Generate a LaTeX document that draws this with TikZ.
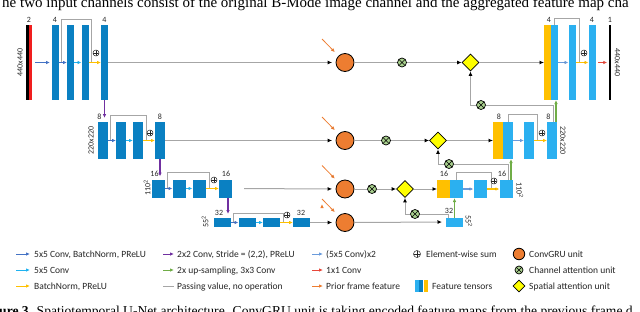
\documentclass[tikz,border=0pt]{standalone}
\usepackage{fontspec}
\setsansfont{Carlito}
\newfontfamily\capfont{Liberation Serif}
\usepackage{tikz}
\usetikzlibrary{arrows.meta,shapes.geometric}

\definecolor{encblue}{HTML}{0A80C2}
\definecolor{decblue}{HTML}{2BB0F0}
\definecolor{catyellow}{HTML}{FFC000}
\definecolor{convblue}{HTML}{4472C4}
\definecolor{lconvblue}{HTML}{1FB2F0}
\definecolor{bnyellow}{HTML}{FFC000}
\definecolor{downpurple}{HTML}{7030A0}
\definecolor{upgreen}{HTML}{70AD47}
\definecolor{dconvblue}{HTML}{6A9BDB}
\definecolor{onered}{HTML}{E8473A}
\definecolor{inred}{HTML}{F01E1E}
\definecolor{priororange}{HTML}{ED7D31}
\definecolor{passgray}{HTML}{A6A6A6}
\definecolor{gruorange}{HTML}{ED7D31}
\definecolor{cagreen}{HTML}{A9D18E}
\definecolor{sayellow}{HTML}{FFFF00}
\definecolor{txtgray}{HTML}{262626}

\begin{document}
\begin{tikzpicture}[x=1pt, y=-1pt,
  bar/.style={rectangle, inner sep=0pt, outer sep=0pt},
  enc/.style={bar, fill=encblue},
  dec/.style={bar, fill=decblue},
  cat/.style={bar, fill=catyellow},
  lone/.style={minimum width=7pt, minimum height=75pt},
  ltwo/.style={minimum width=10pt, minimum height=37pt},
  lthree/.style={minimum width=13pt, minimum height=18pt},
  lfour/.style={minimum width=17pt, minimum height=9pt},
  lbl/.style={inner sep=0pt, text=txtgray, font=\sffamily\fontsize{8}{8}\selectfont},
  key/.style={anchor=base west, inner sep=0pt, text=txtgray, font=\sffamily\fontsize{9.5}{9.5}\selectfont},
  plus/.style={circle, draw=txtgray, line width=0.5pt, minimum size=6pt, inner sep=0pt,
    path picture={\draw[txtgray, line width=0.5pt] (path picture bounding box.north) -- (path picture bounding box.south)
      (path picture bounding box.west) -- (path picture bounding box.east);}},
  gru/.style={circle, draw, line width=0.8pt, fill=gruorange, minimum size=18pt, inner sep=0pt},
  catt/.style={circle, draw, line width=0.7pt, fill=cagreen, minimum size=9pt, inner sep=0pt,
    path picture={\draw[line width=0.6pt] (path picture bounding box.north west) -- (path picture bounding box.south east)
      (path picture bounding box.north east) -- (path picture bounding box.south west);}},
  satt/.style={diamond, draw, line width=0.8pt, fill=sayellow, minimum width=17pt, minimum height=17pt, inner sep=0pt},
  pass/.style={draw=passgray, line width=1pt},
  into/.style={pass, -{Latex[length=4.5pt, width=4pt, color=black]}},
  col/.style={line width=1.1pt, -{Latex[length=4pt, width=3.5pt]}},
  convarr/.style={col, draw=convblue},
  lconvarr/.style={col, draw=lconvblue},
  bnarr/.style={col, draw=bnyellow},
  downarr/.style={col, draw=downpurple},
  uparr/.style={col, draw=upgreen},
  dconvarr/.style={col, draw=dconvblue},
  onearr/.style={col, draw=onered},
  priorarr/.style={col, line width=0.8pt, draw=priororange}]

  \useasboundingbox (0,0) rectangle (640,311);
  \clip (0,0) rectangle (640,311);

  % caption fragments
  \node[anchor=base west, inner sep=0pt, font=\capfont\fontsize{15}{15}\selectfont] (captop) at (2,7)
    {he two input channels consist of the original B-Mode image channel and the aggregated feature map cha};
  \node[anchor=base west, inner sep=0pt, font=\capfont\fontsize{13.6}{13.6}\selectfont] (capbot) at (-1,315)
    {{\bfseries ure 3.} Spatiotemporal U-Net architecture. ConvGRU unit is taking encoded feature maps from the previous frame d};

  % encoder
  \node[bar, fill=black, minimum width=3pt, minimum height=75pt] (inb) at (27.5,62.5) {};
  \node[bar, fill=inred, minimum width=3pt, minimum height=75pt] (inr) at (30.5,62.5) {};
  \node[enc, lone] (e11) at (55.5,62.5) {};
  \node[enc, lone] (e12) at (70.5,62.5) {};
  \node[enc, lone] (e13) at (85,62.5) {};
  \node[enc, lone] (e14) at (104.5,62.5) {};

  \node[enc, ltwo] (e21) at (102.5,140.5) {};
  \node[enc, ltwo] (e22) at (121,140.5) {};
  \node[enc, ltwo] (e23) at (138,140.5) {};
  \node[enc, ltwo] (e24) at (160,140.5) {};

  \node[enc, lthree] (e31) at (158.5,188.5) {};
  \node[enc, lthree] (e32) at (179,188.5) {};
  \node[enc, lthree] (e33) at (199,188.5) {};
  \node[enc, lthree] (e34) at (225.5,188.5) {};

  \node[enc, lfour] (e41) at (222,222.5) {};
  \node[enc, lfour] (e42) at (247,222.5) {};
  \node[enc, lfour] (e43) at (271.5,222.5) {};
  \node[enc, lfour] (e44) at (301.5,222.5) {};

  % decoder
  \node[cat, lone] (d1y) at (547.5,62.5) {};
  \node[dec, lone] (d1b) at (554.5,62.5) {};
  \node[dec, lone] (d12) at (572,62.5) {};
  \node[dec, lone] (d13) at (592,62.5) {};
  \node[bar, fill=black, minimum width=2.5pt, minimum height=75pt] (out) at (610,62.5) {};

  \node[cat, ltwo] (d2y) at (498,140.5) {};
  \node[dec, ltwo] (d2b) at (508,140.5) {};
  \node[dec, ltwo] (d22) at (529,140.5) {};
  \node[dec, ltwo] (d23) at (552,140.5) {};

  \node[cat, lthree] (d3y) at (443.5,189) {};
  \node[dec, lthree] (d3b) at (456.5,189) {};
  \node[dec, lthree] (d32) at (480,189) {};
  \node[dec, lthree] (d33) at (506,189) {};

  \node[dec, lfour] (d41) at (454.5,222) {};

  % channel numbers and sizes
  \node[lbl] (c0) at (29,20) {2};
  \node[lbl] (c11) at (55,20) {4};
  \node[lbl] (c14) at (104.5,20) {4};
  \node[lbl] (c21) at (99.5,116.5) {8};
  \node[lbl] (c24) at (160,116.5) {8};
  \node[lbl] (c31) at (154.5,173.5) {16};
  \node[lbl] (c34) at (226,173.5) {16};
  \node[lbl] (c41) at (219,213) {32};
  \node[lbl] (c44) at (301,213) {32};
  \node[lbl] (k1a) at (549,20) {4};
  \node[lbl] (k1c) at (592,20) {4};
  \node[lbl] (k1o) at (610,20) {1};
  \node[lbl] (k2a) at (499,116.5) {8};
  \node[lbl] (k2c) at (548.5,116.5) {8};
  \node[lbl] (k3a) at (444,174) {16};
  \node[lbl] (k3c) at (502,174) {16};
  \node[lbl] (k4a) at (449,211) {32};

  \node[lbl, rotate=90] (dim1) at (20,62.5) {440x440};
  \node[lbl, rotate=90] (dim2) at (91,140.5) {220x220};
  \node[lbl, rotate=90] (dim3) at (147,188) {110\textsuperscript{2}};
  \node[lbl, rotate=90] (dim4) at (205,222) {55\textsuperscript{2}};
  \node[lbl, rotate=-90] (dimr1) at (617.5,62.5) {440x440};
  \node[lbl, rotate=-90] (dimr2) at (563,140.5) {220x220};
  \node[lbl, rotate=-90] (dimr3) at (520,190) {110\textsuperscript{2}};
  \node[lbl, rotate=-90] (dimr4) at (469,221) {55\textsuperscript{2}};

  % attention units
  \node[gru] (g1) at (345,62.5) {};
  \node[gru] (g2) at (345,140.5) {};
  \node[gru] (g3) at (345,189) {};
  \node[gru] (g4) at (345,222.5) {};
  \node[catt] (ca1) at (402,62.5) {};
  \node[catt] (ca2) at (386,140.5) {};
  \node[catt] (ca3) at (372,189) {};
  \node[catt] (cb1) at (481,105) {};
  \node[catt] (cb2) at (449,164) {};
  \node[catt] (cb3) at (415,214) {};
  \node[satt] (sa1) at (470.5,62.5) {};
  \node[satt] (sa2) at (438,140.5) {};
  \node[satt] (sa3) at (405,189) {};

  \coordinate (pr1) at (322,39);
  \coordinate (pr2) at (322,117);
  \coordinate (pr3) at (322,165.5);
  \coordinate (pr4) at (322,199);
  \path[priorarr, shorten >=5pt] (pr1) edge (g1) (pr2) edge (g2) (pr3) edge (g3) (pr4) edge (g4);

  % skip connections
  \coordinate (s1a) at (61,62.5);
  \coordinate (s1b) at (91,62.5);
  \coordinate (s2a) at (110,140.5);
  \coordinate (s2b) at (146,140.5);
  \coordinate (s3a) at (167,188.5);
  \coordinate (s3b) at (209,188.5);
  \coordinate (s4a) at (233,222.5);
  \coordinate (s4b) at (283,222.5);
  \draw[pass] (s1a) -- ++(0,-43.5) -| (s1b);
  \draw[pass] (s2a) -- ++(0,-25.5) -| (s2b);
  \draw[pass] (s3a) -- ++(0,-16.5) -| (s3b);
  \draw[pass] (s4a) -- ++(0,-9.5) -| (s4b);
  \coordinate (t1b) at (579,62.5);
  \coordinate (t2b) at (537,140.5);
  \coordinate (t3b) at (491,189);
  \draw[pass] (d1b.north) -- ++(0,-7) -| (t1b);
  \draw[pass] (d2b.north) -- ++(0,-8) -| (t2b);
  \draw[pass] (d3b.north) -- ++(0,-7.5) -| (t3b);

  \node[plus] (p1) at (96,53) {};
  \node[plus] (p2) at (150,133) {};
  \node[plus] (p3) at (214,180) {};
  \node[plus] (p4) at (287,215) {};
  \node[plus] (q1) at (584,53) {};
  \node[plus] (q2) at (542,133) {};
  \node[plus] (q3) at (494,181) {};

  % encoder arrows
  \path[convarr, shorten <=3pt, shorten >=2pt] (inr) edge (e11);
  \path[convarr] (e11) edge (e12) (e21) edge (e22) (e31) edge (e32) (e41) edge (e42);
  \path[lconvarr] (e12) edge (e13) (e22) edge (e23) (e32) edge (e33) (e42) edge (e43);
  \path[bnarr] (e13) edge (e14) (e23) edge (e24) (e33) edge (e34) (e43) edge (e44);
  \draw[downarr, shorten >=4pt] (e14.south) -- (e14.south |- e21.north);
  \draw[downarr, shorten >=3pt] (e24.south) -- (e24.south |- e31.north);
  \draw[downarr, shorten >=4pt] ([xshift=2.5pt]e34.south) -- ([xshift=2.5pt]e34.south |- e41.north);

  % bottleneck paths
  \path[into, shorten >=3.5pt] (e14) edge (g1) (e24) edge (g2) (e44) edge (g4);
  \path[into, shorten <=12pt, shorten >=3.5pt] (e34) edge (g3);
  \draw[pass] (g1) -- (ca1);
  \draw[pass] (g2) -- (ca2);
  \draw[pass] (g3) -- (ca3);
  \path[into] (ca1) edge (sa1) (ca2) edge (sa2) (ca3) edge (sa3);
  \path[into] (sa1) edge (d1y) (sa2) edge (d2y) (sa3) edge (d3y);
  \path[into, shorten >=4pt] (g4) edge (d41);

  % decoder arrows
  \path[dconvarr] (d1b) edge (d12) (d2b) edge (d22) (d3b) edge (d32);
  \path[bnarr] (d12) edge (d13) (d22) edge (d23) (d32) edge (d33);
  \path[onearr, shorten <=2.5pt, shorten >=1.5pt] (d13) edge (out);
  \draw[uparr] ([xshift=4pt]d23.north) -- ([xshift=4pt]d23.north |- d1b.south);
  \draw[uparr] ([xshift=5pt]d33.north) -- ([xshift=5pt]d33.north |- d2b.south);
  \draw[uparr] (d41.north) -- (d41.north |- d3b.south);

  \draw[pass] ([xshift=1pt]d23.north) |- (cb1);
  \draw[pass] ([xshift=2pt]d33.north) |- (cb2);
  \draw[pass] ([xshift=-6pt]d41.north) |- (cb3);
  \draw[into] (cb1) -| (sa1);
  \draw[into] (cb2) -| (sa2);
  \draw[into] (cb3) -| (sa3);

  % legend
  \coordinate (a1) at (16,254);
  \coordinate (a2) at (16,270);
  \coordinate (a3) at (16,286);
  \coordinate (b1) at (163,254);
  \coordinate (b2) at (163,270);
  \coordinate (b3) at (163,286);
  \coordinate (f1) at (312,254);
  \coordinate (f2) at (312,270);
  \coordinate (f3) at (312,286);
  \node[key] (ta1) at (34,257.2) {5x5 Conv, BatchNorm, PReLU};
  \node[key] (ta2) at (34,273.2) {5x5 Conv};
  \node[key] (ta3) at (34,289.2) {BatchNorm, PReLU};
  \node[key] (tb1) at (177,257.2) {2x2 Conv, Stride = (2,2), PReLU};
  \node[key] (tb2) at (177,273.2) {2x up-sampling, 3x3 Conv};
  \node[key] (tb3) at (177,289.2) {Passing value, no operation};
  \node[key] (tf1) at (326,257.2) {(5x5 Conv)x2};
  \node[key] (tf2) at (326,273.2) {1x1 Conv};
  \node[key] (tf3) at (326,289.2) {Prior frame feature};
  \draw[convarr, line width=1pt, shorten >=4pt] (a1) -- (a1 -| ta1.west);
  \draw[lconvarr, line width=1pt, shorten >=4pt] (a2) -- (a2 -| ta2.west);
  \draw[bnarr, line width=1pt, shorten >=4pt] (a3) -- (a3 -| ta3.west);
  \draw[downarr, line width=1pt, shorten >=3pt] (b1) -- (b1 -| tb1.west);
  \draw[uparr, line width=1pt, shorten >=3pt] (b2) -- (b2 -| tb2.west);
  \draw[pass, shorten >=3pt] (b3) -- (b3 -| tb3.west);
  \draw[dconvarr, line width=1pt, shorten >=3pt] (f1) -- (f1 -| tf1.west);
  \draw[onearr, line width=1pt, shorten >=3pt] (f2) -- (f2 -| tf2.west);
  \draw[priorarr, line width=1pt, shorten >=3pt] (f3) -- (f3 -| tf3.west);

  \node[plus, minimum size=7pt] (lp) at (417,254) {};
  \node[key] (tp) at (426,257.2) {Element-wise sum};
  \node[bar, fill=decblue, minimum width=4pt, minimum height=12pt] (ft1) at (417,286) {};
  \node[bar, fill=encblue, minimum width=4pt, minimum height=12pt] (ft2) at (421,286) {};
  \node[bar, fill=catyellow, minimum width=4.5pt, minimum height=12pt] (ft3) at (426,286) {};
  \node[key] (tt) at (432,289.2) {Feature tensors};

  \node[gru, minimum size=11.5pt] (lg) at (519,254) {};
  \node[key] (tg) at (529,257.2) {ConvGRU unit};
  \node[catt, minimum size=8pt] (lc) at (519,270) {};
  \node[key] (tc) at (529,273.2) {Channel attention unit};
  \node[satt, minimum width=12pt, minimum height=12pt] (ls) at (519,286) {};
  \node[key] (ts) at (529,289.2) {Spatial attention unit};
\end{tikzpicture}
\end{document}
